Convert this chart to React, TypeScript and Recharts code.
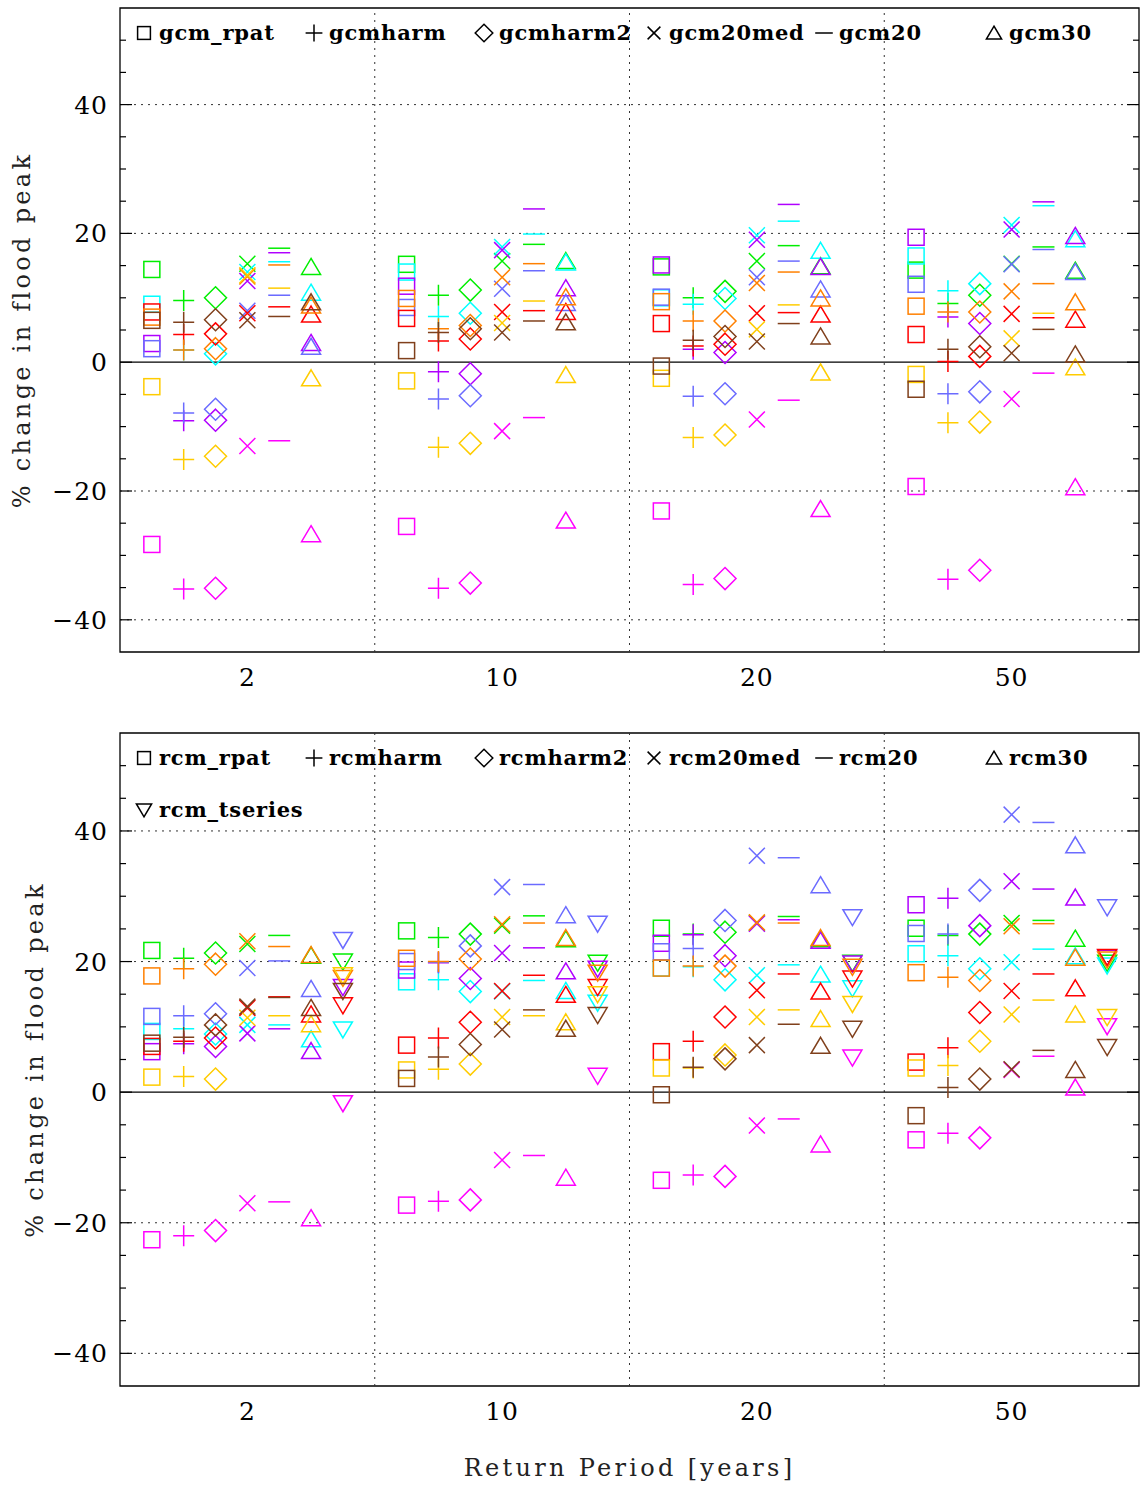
import { ScatterChart, Scatter, XAxis, YAxis, ReferenceLine, ReferenceArea } from 'recharts'

// return periods (years) along the x axis
const periods = ['2', '10', '20', '50']

// one colour per climate model run
const colorNames = ['green', 'cyan', 'magenta', 'purple', 'blue', 'red', 'orange', 'gold', 'brown']
const palette = ['#00ee00', '#00ffff', '#ff00ff', '#b000ff', '#6b6bff', '#ff0000', '#ff8000', '#ffcc00', '#80401c']

const gcmMethods = ['gcm_rpat', 'gcmharm', 'gcmharm2', 'gcm20med', 'gcm20', 'gcm30']
const rcmMethods = ['rcm_rpat', 'rcmharm', 'rcmharm2', 'rcm20med', 'rcm20', 'rcm30', 'rcm_tseries']
const glyphs = ['square', 'plus', 'diamond', 'cross', 'dash', 'triangle', 'invtriangle']

const yTicks = [-45, -40, -35, -30, -25, -20, -15, -10, -5, 0, 5, 10, 15, 20, 25, 30, 35, 40, 45, 50, 55]

// % change in flood peak, rows follow colorNames, columns follow periods
const gcmRpat = [
  [14.4, 15.2, 14.8, 14.3],
  [9.0, 14.0, 10.0, 16.5],
  [-28.3, -25.5, -23.1, -19.3],
  [2.9, 11.8, 15.1, 19.4],
  [2.1, 8.5, 10.1, 12.1],
  [7.8, 6.8, 6.0, 4.3],
  [7.0, 9.9, 9.4, 8.7],
  [-3.8, -2.9, -2.5, -1.9],
  [6.5, 1.8, -0.6, -4.2],
]
const gcmHarm = [
  [9.6, 10.4, 10.0, 9.1],
  [1.9, 7.1, 9.0, 11.1],
  [-35.2, -35.1, -34.5, -33.7],
  [-9.1, -1.5, 2.0, 7.0],
  [-7.9, -5.7, -5.3, -4.9],
  [4.3, 3.3, 2.5, 0.1],
  [1.9, 5.2, 6.4, 7.8],
  [-15.1, -13.2, -11.7, -9.4],
  [6.2, 4.6, 3.4, 2.0],
]
const gcmHarm2 = [
  [10.0, 11.2, 11.0, 10.4],
  [1.3, 7.6, 9.9, 12.2],
  [-35.1, -34.3, -33.6, -32.3],
  [-9.0, -1.8, 1.5, 6.0],
  [-7.3, -5.2, -4.9, -4.6],
  [4.4, 3.6, 2.8, 0.9],
  [2.1, 5.7, 6.4, 7.8],
  [-14.6, -12.6, -11.3, -9.3],
  [6.6, 5.2, 4.0, 2.4],
]
const gcm20med = [
  [15.3, 15.7, 15.7, 15.3],
  [14.0, 17.9, 19.7, 21.3],
  [-13.0, -10.7, -8.9, -5.7],
  [12.6, 17.4, 19.0, 20.6],
  [8.0, 11.4, 13.2, 15.2],
  [7.6, 7.8, 7.6, 7.5],
  [13.3, 13.2, 12.3, 11.0],
  [13.5, 6.1, 5.1, 3.7],
  [6.5, 4.6, 3.2, 1.4],
]
const gcm20 = [
  [17.7, 18.3, 18.1, 17.9],
  [15.6, 19.9, 21.9, 24.3],
  [-12.2, -8.6, -5.9, -1.7],
  [17.0, 23.8, 24.5, 24.9],
  [10.4, 14.2, 15.7, 17.5],
  [8.6, 8.0, 7.7, 6.9],
  [15.1, 15.3, 14.0, 12.2],
  [11.5, 9.5, 8.9, 7.6],
  [7.1, 6.4, 6.0, 5.1],
]
const gcm30 = [
  [14.8, 15.7, 14.9, 14.2],
  [10.8, 15.5, 17.3, 19.1],
  [-26.7, -24.6, -22.8, -19.4],
  [3.0, 11.5, 14.8, 19.6],
  [2.4, 9.2, 11.3, 14.0],
  [7.4, 7.8, 7.4, 6.6],
  [8.8, 10.1, 9.9, 9.3],
  [-2.5, -2.0, -1.6, -0.8],
  [9.3, 6.2, 4.0, 1.2],
]

const rcmRpat = [
  [21.7, 24.7, 25.1, 25.1],
  [9.3, 16.9, 19.0, 21.2],
  [-22.6, -17.3, -13.5, -7.3],
  [6.2, 18.7, 22.8, 28.7],
  [11.6, 20.0, 21.5, 24.3],
  [7.0, 7.2, 6.2, 4.6],
  [17.8, 20.5, 19.0, 18.3],
  [2.3, 3.4, 3.7, 3.7],
  [7.5, 2.1, -0.4, -3.6],
]
const rcmHarm = [
  [20.5, 23.7, 24.2, 24.0],
  [9.7, 17.2, 19.2, 20.9],
  [-22.0, -16.7, -12.7, -6.3],
  [7.4, 19.8, 24.1, 29.7],
  [11.7, 19.9, 22.0, 24.2],
  [7.8, 8.3, 7.8, 6.8],
  [18.9, 20.0, 19.3, 17.6],
  [2.4, 3.5, 3.7, 4.1],
  [8.4, 5.4, 3.8, 0.7],
]
const rcmHarm2 = [
  [21.3, 24.2, 24.5, 24.2],
  [8.9, 15.4, 17.2, 18.9],
  [-21.2, -16.5, -12.9, -7.0],
  [7.0, 17.4, 20.9, 25.5],
  [12.0, 22.4, 26.3, 30.9],
  [8.3, 10.7, 11.5, 12.2],
  [19.6, 20.4, 19.3, 17.1],
  [2.0, 4.3, 5.7, 7.8],
  [10.3, 7.3, 5.1, 2.0],
]
const rcm20med = [
  [22.7, 25.5, 25.9, 25.9],
  [10.3, 15.4, 17.9, 19.9],
  [-17.0, -10.4, -5.1, 3.4],
  [9.0, 21.3, 25.8, 32.3],
  [19.0, 31.4, 36.2, 42.5],
  [12.9, 15.5, 15.6, 15.5],
  [23.1, 25.7, 26.0, 25.4],
  [11.4, 11.5, 11.5, 11.9],
  [13.1, 9.6, 7.2, 3.5],
]
const rcm20 = [
  [24.0, 27.0, 26.9, 26.3],
  [10.3, 17.1, 19.5, 21.9],
  [-16.8, -9.7, -4.1, 5.5],
  [9.7, 22.1, 26.4, 31.1],
  [20.1, 31.8, 35.9, 41.3],
  [14.6, 17.9, 18.1, 18.1],
  [22.3, 25.9, 25.9, 25.8],
  [11.7, 11.7, 12.6, 14.1],
  [14.5, 12.6, 10.4, 6.4],
]
const rcm30 = [
  [20.9, 23.4, 23.4, 23.5],
  [8.1, 15.5, 18.0, 20.8],
  [-19.3, -13.1, -8.0, 0.7],
  [6.3, 18.5, 23.2, 29.8],
  [15.8, 27.1, 31.7, 37.8],
  [11.9, 14.9, 15.4, 15.9],
  [21.0, 23.6, 23.6, 20.6],
  [10.4, 10.7, 11.2, 11.9],
  [12.9, 9.7, 7.1, 3.4],
]
const rcmTseries = [
  [20.0, 19.8, 19.8, 19.8],
  [9.6, 13.7, 15.9, 19.4],
  [-1.7, 2.5, 5.3, 10.1],
  [16.1, 18.9, 19.7, 20.6],
  [23.3, 25.8, 26.8, 28.3],
  [13.3, 16.1, 17.4, 20.7],
  [17.5, 18.3, 19.2, 20.3],
  [17.9, 15.0, 13.5, 11.5],
  [15.5, 11.8, 9.7, 6.9],
]

const CHART_W = 1140
const PLOT_L = 120
const MARGIN_R = 1
const PLOT_R = CHART_W - MARGIN_R
const STEP = 0.125
const FONT = "'DejaVu Serif', 'Liberation Serif', serif"

type Pt = { x: number; y: number; m: number }

function buildSeries(tables: number[][][]): Pt[][] {
  return colorNames.map((_, c) =>
    tables.flatMap((table, m) => periods.map((_, p) => ({ x: p + STEP * (m + 1), y: table[c][p], m }))),
  )
}

function Marker({ cx, cy, glyph, color, k = 1 }: { cx: number; cy: number; glyph: string; color: string; k?: number }) {
  const s = { fill: 'none', stroke: color, strokeWidth: 1.5 }
  const q = (v: number) => v * k
  switch (glyph) {
    case 'square':
      return <rect x={cx - q(8)} y={cy - q(8)} width={q(16)} height={q(16)} {...s} />
    case 'plus':
      return <path d={`M${cx - q(10.5)},${cy}H${cx + q(10.5)}M${cx},${cy - q(10.5)}V${cy + q(10.5)}`} {...s} />
    case 'diamond':
      return <path d={`M${cx},${cy - q(11)}L${cx + q(11)},${cy}L${cx},${cy + q(11)}L${cx - q(11)},${cy}Z`} {...s} />
    case 'cross':
      return <path d={`M${cx - q(8)},${cy - q(8)}L${cx + q(8)},${cy + q(8)}M${cx - q(8)},${cy + q(8)}L${cx + q(8)},${cy - q(8)}`} {...s} />
    case 'dash':
      return <path d={`M${cx - q(11)},${cy}H${cx + q(11)}`} {...s} />
    case 'triangle':
      return <path d={`M${cx},${cy - q(8.5)}L${cx + q(9.5)},${cy + q(7.5)}L${cx - q(9.5)},${cy + q(7.5)}Z`} {...s} />
    default:
      return <path d={`M${cx},${cy + q(8.5)}L${cx + q(9.5)},${cy - q(7.5)}L${cx - q(9.5)},${cy - q(7.5)}Z`} {...s} />
  }
}

function YTick(props: any) {
  const { x, y, payload } = props
  const v = payload.value as number
  if (v === 55 || v === -45) return null
  const major = v % 20 === 0
  const len = major ? 12 : 6
  return (
    <g>
      <line x1={PLOT_L} x2={PLOT_L + len} y1={y} y2={y} stroke="#000" strokeWidth={1.2} />
      <line x1={PLOT_R - len} x2={PLOT_R} y1={y} y2={y} stroke="#000" strokeWidth={1.2} />
      {major && (
        <text x={x} y={y} dy="0.36em" textAnchor="end" fontSize={25} letterSpacing={1} fontFamily={FONT} fill="#000">
          {v < 0 ? `\u2212${-v}` : v}
        </text>
      )}
    </g>
  )
}

// method key drawn over the top-left of each plot
function MethodLegend({ methods }: { methods: string[] }) {
  return (
    <svg width={1000} height={100} style={{ position: 'absolute', left: PLOT_L, top: 8, pointerEvents: 'none' }}>
      {methods.map((name, i) => {
        const row = i < 6 ? 0 : 1
        const col = i < 6 ? i : 0
        const gx = 24 + col * 170
        const gy = 25 + row * 52
        return (
          <g key={name}>
            <Marker cx={gx} cy={gy} glyph={glyphs[i]} color="#000" k={0.8} />
            <text
              x={gx + 15}
              y={gy}
              dy="0.32em"
              fontSize={21}
              fontWeight="bold"
              letterSpacing={0.8}
              fontFamily={FONT}
              fill="#000"
            >
              {name}
            </text>
          </g>
        )
      })}
    </svg>
  )
}

function Panel({ methods, tables, height, bottom, titleX, showXTitle }: {
  methods: string[]
  tables: number[][][]
  height: number
  bottom: number
  titleX: number
  showXTitle: boolean
}) {
  const series = buildSeries(tables)
  return (
    <div style={{ position: 'relative', width: CHART_W, height }}>
      <ScatterChart width={CHART_W} height={height} margin={{ top: 8, right: MARGIN_R, left: 0, bottom: 0 }}>
        <XAxis
          type="number"
          dataKey="x"
          domain={[0, 4]}
          ticks={[0.5, 1.5, 2.5, 3.5]}
          tickFormatter={(v: number) => periods[Math.floor(v)]}
          tick={{ fontSize: 25, fill: '#000', fontFamily: FONT, letterSpacing: 1 }}
          tickLine={false}
          axisLine={false}
          tickSize={0}
          tickMargin={16}
          height={bottom}
          allowDataOverflow
          label={
            showXTitle
              ? {
                  content: (p: any) => (
                    <text
                      x={p.viewBox.x + p.viewBox.width / 2}
                      y={p.viewBox.y + 90}
                      textAnchor="middle"
                      fontSize={24}
                      letterSpacing={3.3}
                      fontFamily={FONT}
                      fill="#222"
                    >
                      Return Period [years]
                    </text>
                  ),
                }
              : undefined
          }
        />
        <YAxis
          type="number"
          dataKey="y"
          domain={[-45, 55]}
          ticks={yTicks}
          interval={0}
          width={PLOT_L}
          tick={<YTick />}
          tickLine={false}
          axisLine={false}
          tickSize={0}
          tickMargin={12}
          allowDataOverflow
          label={{
            content: (p: any) => {
              const cy = p.viewBox.y + p.viewBox.height / 2
              return (
                <text
                  x={titleX}
                  y={cy}
                  transform={`rotate(-90 ${titleX} ${cy})`}
                  textAnchor="middle"
                  dominantBaseline="central"
                  fontSize={24}
                  letterSpacing={3.3}
                  fontFamily={FONT}
                  fill="#222"
                >
                  % change in flood peak
                </text>
              )
            },
          }}
        />
        {[-40, -20, 20, 40].map((v) => (
          <ReferenceLine key={`h${v}`} y={v} stroke="#333" strokeDasharray="2 5" />
        ))}
        {[1, 2, 3].map((v) => (
          <ReferenceLine key={`v${v}`} x={v} stroke="#333" strokeDasharray="2 5" />
        ))}
        <ReferenceLine y={0} stroke="#000" strokeWidth={1.3} />
        <ReferenceArea x1={0} x2={4} y1={-45} y2={55} fill="none" stroke="#000" strokeWidth={1.3} />
        {series.map((data, c) => (
          <Scatter
            key={colorNames[c]}
            name={colorNames[c]}
            data={data}
            isAnimationActive={false}
            shape={(p: any) => <Marker cx={p.cx} cy={p.cy} glyph={glyphs[p.payload.m]} color={palette[c]} />}
          />
        ))}
      </ScatterChart>
      <MethodLegend methods={methods} />
    </div>
  )
}

export default function App() {
  return (
    <div style={{ position: 'absolute', left: 0, top: 0, width: CHART_W, height: 1485, background: '#fff', fontFamily: FONT }}>
      <div style={{ position: 'absolute', left: 0, top: 0 }}>
        <Panel
          methods={gcmMethods}
          tables={[gcmRpat, gcmHarm, gcmHarm2, gcm20med, gcm20, gcm30]}
          height={700}
          bottom={48}
          titleX={22}
          showXTitle={false}
        />
      </div>
      <div style={{ position: 'absolute', left: 0, top: 725 }}>
        <Panel
          methods={rcmMethods}
          tables={[rcmRpat, rcmHarm, rcmHarm2, rcm20med, rcm20, rcm30, rcmTseries]}
          height={760}
          bottom={99}
          titleX={35}
          showXTitle
        />
      </div>
    </div>
  )
}
